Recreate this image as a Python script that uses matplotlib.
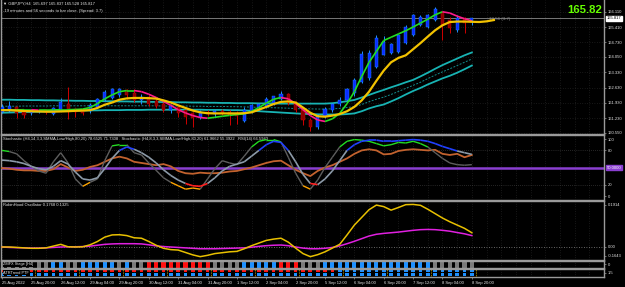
import numpy as np
import matplotlib.pyplot as plt
from matplotlib.collections import LineCollection
from matplotlib.transforms import blended_transform_factory

plt.rcParams['font.family'] = ['Liberation Sans', 'DejaVu Sans']

# GBPJPY H4 candles (25 Aug 2022 - 8 Sep 2022)
opens = [161.52, 161.56, 161.74, 161.56, 161.47, 161.52, 161.61, 161.42, 161.61, 161.88,
         161.65, 161.61, 161.56, 161.74, 162.07, 162.16, 162.30, 162.53, 162.39, 162.07,
         162.20, 162.02, 161.88, 161.61, 161.74, 161.61, 161.47, 161.29, 161.52, 161.42,
         161.56, 161.52, 161.47, 161.10, 161.52, 161.70, 161.79, 161.93, 162.11, 162.34,
         161.93, 161.61, 161.15, 160.83, 161.33, 161.61, 161.88, 162.07, 162.39, 162.89,
         163.08, 163.58, 164.13, 164.23, 164.27, 164.69, 165.05, 165.51, 165.42, 165.74,
         166.11, 165.74, 165.28, 165.83, 165.697]
highs = [161.88, 162.02, 161.79, 161.65, 161.65, 161.61, 161.65, 161.74, 162.16, 162.66,
         161.70, 161.65, 161.93, 162.16, 162.53, 162.62, 162.62, 162.57, 162.57, 162.34,
         162.30, 162.11, 161.97, 161.88, 161.79, 161.65, 161.52, 161.61, 161.61, 161.61,
         161.65, 161.61, 161.56, 161.74, 161.88, 161.93, 162.20, 162.25, 162.48, 162.39,
         162.02, 161.65, 161.24, 161.42, 161.74, 161.93, 162.20, 162.62, 163.08, 164.32,
         164.36, 165.05, 165.01, 164.69, 165.10, 165.51, 166.02, 165.97, 166.02, 166.34,
         166.16, 165.88, 165.97, 165.88, 165.837]
lows = [161.47, 161.52, 161.24, 161.24, 161.38, 161.47, 161.42, 161.38, 161.56, 161.19,
        161.29, 161.38, 161.47, 161.70, 162.02, 162.11, 162.20, 162.11, 161.97, 161.88,
        161.79, 161.70, 161.52, 161.47, 161.29, 160.96, 160.83, 161.19, 161.33, 161.29,
        161.38, 160.92, 160.96, 161.06, 161.47, 161.61, 161.70, 161.84, 162.07, 161.84,
        161.52, 160.92, 160.64, 160.73, 161.24, 161.52, 161.79, 162.02, 162.25, 162.85,
        162.99, 163.54, 164.13, 164.18, 164.23, 164.64, 165.01, 165.47, 165.37, 165.70,
        164.82, 165.15, 165.19, 165.15, 165.528]
closes = [161.74, 161.79, 161.47, 161.38, 161.61, 161.56, 161.52, 161.70, 161.97, 161.61,
          161.52, 161.47, 161.84, 162.11, 162.43, 162.57, 162.57, 162.30, 162.07, 162.20,
          161.88, 161.79, 161.61, 161.79, 161.47, 161.29, 161.24, 161.52, 161.42, 161.56,
          161.47, 161.38, 161.33, 161.61, 161.84, 161.88, 162.11, 162.25, 162.34, 161.93,
          161.61, 161.15, 160.83, 161.33, 161.65, 161.88, 162.07, 162.57, 162.99, 164.18,
          164.23, 164.92, 164.73, 164.64, 165.05, 165.42, 165.97, 165.88, 165.97, 166.25,
          165.51, 165.37, 165.83, 165.62, 165.817]

# moving averages and channel on the price chart
fast_ma = [161.60, 161.60, 161.61, 161.62, 161.62, 161.60, 161.60, 161.61, 161.62, 161.62,
           161.63, 161.65, 161.72, 161.90, 162.12, 162.30, 162.45, 162.50, 162.50, 162.45,
           162.33, 162.18, 162.00, 161.82, 161.62, 161.47, 161.35, 161.26, 161.23, 161.27,
           161.32, 161.36, 161.40, 161.43, 161.55, 161.72, 161.92, 162.10, 162.18, 162.12,
           161.90, 161.62, 161.35, 161.15, 161.08, 161.20, 161.45, 161.90, 162.45, 163.15,
           163.80, 164.30, 164.80, 164.95, 165.10, 165.25, 165.42, 165.60, 165.78, 165.98,
           166.12, 166.06, 165.92, 165.80, 165.70]
slow_ma = [161.60, 161.60, 161.58, 161.56, 161.55, 161.54, 161.53, 161.53, 161.54, 161.55,
           161.57, 161.58, 161.60, 161.70, 161.85, 161.95, 162.08, 162.14, 162.16, 162.16,
           162.15, 162.13, 162.05, 161.95, 161.82, 161.70, 161.58, 161.50, 161.46, 161.45,
           161.45, 161.45, 161.45, 161.46, 161.50, 161.62, 161.75, 161.88, 161.98, 162.00,
           161.95, 161.72, 161.48, 161.32, 161.30, 161.35, 161.42, 161.55, 161.75, 162.05,
           162.45, 162.95, 163.42, 163.80, 164.00, 164.12, 164.40, 164.68, 164.98, 165.27,
           165.50, 165.65, 165.67, 165.67, 165.66, 165.65, 165.68, 165.74]
band_upper = [162.08, 162.08, 162.07, 162.07, 162.06, 162.06, 162.05, 162.05, 162.04, 162.04,
              162.03, 162.03, 162.02, 162.02, 162.01, 162.01, 162.00, 162.00, 161.99, 161.99,
              161.98, 161.98, 161.97, 161.97, 161.96, 161.96, 161.95, 161.95, 161.94, 161.94,
              161.93, 161.93, 161.92, 161.92, 161.92, 161.91, 161.91, 161.91, 161.90, 161.90,
              161.90, 161.90, 161.90, 161.90, 161.90, 161.92, 161.96, 162.01, 162.07, 162.18,
              162.30, 162.42, 162.53, 162.65, 162.76, 162.88, 162.99, 163.15, 163.32, 163.50,
              163.67, 163.82, 163.97, 164.12, 164.25]
band_mid = [161.78, 161.78, 161.78, 161.79, 161.79, 161.79, 161.79, 161.80, 161.80, 161.80,
            161.80, 161.80, 161.80, 161.80, 161.80, 161.80, 161.80, 161.80, 161.80, 161.80,
            161.80, 161.80, 161.79, 161.79, 161.79, 161.79, 161.78, 161.78, 161.77, 161.77,
            161.77, 161.76, 161.76, 161.75, 161.74, 161.73, 161.72, 161.71, 161.70, 161.69,
            161.67, 161.66, 161.66, 161.65, 161.65, 161.66, 161.68, 161.72, 161.76, 161.86,
            161.99, 162.10, 162.20, 162.32, 162.46, 162.60, 162.74, 162.88, 163.05, 163.21,
            163.36, 163.50, 163.65, 163.80, 163.95]
band_lower = [161.48, 161.49, 161.50, 161.51, 161.52, 161.53, 161.54, 161.55, 161.56, 161.57,
              161.58, 161.58, 161.59, 161.59, 161.60, 161.60, 161.60, 161.61, 161.61, 161.61,
              161.62, 161.62, 161.62, 161.62, 161.62, 161.62, 161.62, 161.62, 161.61, 161.61,
              161.61, 161.60, 161.60, 161.59, 161.57, 161.55, 161.53, 161.51, 161.49, 161.47,
              161.45, 161.43, 161.42, 161.41, 161.40, 161.40, 161.40, 161.42, 161.45, 161.55,
              161.68, 161.78, 161.86, 162.00, 162.15, 162.32, 162.48, 162.62, 162.78, 162.92,
              163.06, 163.18, 163.32, 163.48, 163.65]

# stochastics + RSI window
stoch_fast = [80, 78, 74, 62, 52, 44, 40, 60, 76, 58, 30, 17, 24, 30, 62, 88, 90, 90, 76, 72,
              58, 45, 32, 24, 18, 12, 14, 12, 30, 48, 62, 58, 55, 70, 86, 96, 99, 99, 95, 68,
              40, 18, 12, 28, 50, 68, 86, 96, 99, 98, 96, 92, 88, 90, 94, 93, 96, 92, 86, 76,
              66, 58, 55, 54, 55]
stoch_slow = [63, 62, 60, 57, 52, 48, 46, 52, 62, 56, 42, 30, 28, 32, 48, 66, 80, 86, 82, 76,
              68, 58, 46, 36, 28, 22, 18, 17, 22, 32, 44, 52, 56, 60, 70, 80, 90, 96, 94, 80,
              60, 38, 22, 20, 30, 44, 62, 80, 90, 96, 98, 98, 96, 96, 97, 98, 99, 98, 96, 92,
              87, 83, 79, 76, 73]
rsi = [49, 48, 46, 45, 45, 44, 44, 47, 56, 50, 44, 46, 51, 54, 60, 66, 69, 66, 60, 58,
       56, 54, 56, 52, 44, 40, 39, 41, 40, 40, 41, 43, 44, 47, 50, 54, 58, 61, 62, 54,
       46, 40, 35, 44, 50, 54, 60, 66, 74, 80, 82, 80, 73, 74, 79, 81, 82, 81, 80, 81,
       74, 72, 74, 68, 72]

# RobinHood oscillator window
rh_main = [0.000, 0.000, -0.002, -0.004, -0.006, -0.006, -0.004, 0.004, 0.012, 0.001,
           0.000, 0.001, 0.010, 0.025, 0.045, 0.055, 0.056, 0.052, 0.042, 0.040,
           0.025, 0.008, -0.006, -0.012, -0.014, -0.025, -0.036, -0.044, -0.038, -0.030,
           -0.026, -0.022, -0.020, -0.008, 0.006, 0.018, 0.030, 0.036, 0.040, 0.022,
           -0.005, -0.030, -0.044, -0.035, -0.022, -0.005, 0.012, 0.055, 0.100, 0.135,
           0.170, 0.191, 0.184, 0.168, 0.180, 0.193, 0.194, 0.190, 0.172, 0.152,
           0.132, 0.115, 0.100, 0.085, 0.065]
rh_signal = [0.000, -0.002, -0.003, -0.004, -0.005, -0.005, -0.004, -0.002, 0.000, 0.001,
             0.001, 0.002, 0.004, 0.008, 0.012, 0.014, 0.015, 0.015, 0.015, 0.014,
             0.010, 0.005, 0.002, 0.000, -0.002, -0.004, -0.006, -0.008, -0.008, -0.008,
             -0.007, -0.006, -0.005, -0.004, -0.001, 0.003, 0.006, 0.008, 0.009, 0.006,
             0.000, -0.005, -0.008, -0.008, -0.006, -0.002, 0.005, 0.015, 0.026, 0.038,
             0.050, 0.058, 0.062, 0.065, 0.068, 0.072, 0.076, 0.079, 0.080, 0.079,
             0.076, 0.072, 0.066, 0.060, 0.052]

# signal strips, one letter per bar: G grey, B blue, R red
strip_stage = "GGGGGGGBBG" "GBBBBBGBGG" "RRRRRRRRRG" "GGGBBBBBRR" "RGGGBBBBBB" "BBBBBBBBBG" "GGGGG"
strip_trend_top = "RRRRRRRRRR" "RRRRRRRRRR" "RRRRRRRRRR" "RRRRRRRRRR" "RRRRRRBBBB" "BBBBBBBBBB" "BBBBB"
strip_trend_bot = "BBBBBBBBBB" "BBBBBBBBBB" "BBBBBBBBBB" "BBBBBBBBBB" "BBBBBBBBBB" "BBBBBBBBBB" "BBBBB"

time_labels = ["25 Aug 2022", "25 Aug 20:00", "26 Aug 12:00", "29 Aug 04:00", "29 Aug 20:00",
               "30 Aug 12:00", "31 Aug 04:00", "31 Aug 20:00", "1 Sep 12:00", "2 Sep 04:00",
               "2 Sep 20:00", "5 Sep 12:00", "6 Sep 04:00", "6 Sep 20:00", "7 Sep 12:00",
               "8 Sep 04:00", "8 Sep 20:00"]
price_ticks = [166.11, 165.41, 164.73, 164.05, 163.33, 162.63, 161.93, 161.23, 160.55]

# ---------------------------------------------------------------
W, H = 625, 287
fig = plt.figure(figsize=(W / 100, H / 100), dpi=100, facecolor='black')
n = len(closes)
x = np.arange(n)
GRID = '#2e2e2e'
FRAME = '#9a9a9a'
TXT = '#e6e6e6'


def panel(top, bottom):
    ax = fig.add_axes([0.5 / W, 1 - bottom / H, 603.5 / W, (bottom - top) / H])
    ax.set_facecolor('black')
    ax.set_xlim(-0.2, 82.0)
    for s in ax.spines.values():
        s.set_color(FRAME)
        s.set_linewidth(1)
    ax.yaxis.tick_right()
    ax.tick_params(axis='y', labelsize=3, colors=FRAME, labelcolor=TXT, length=1.5, pad=1, width=0.5)
    ax.tick_params(axis='x', bottom=False, labelbottom=False)
    for gx in range(0, 83, 2):
        ax.axvline(gx, color=GRID, lw=0.5, ls=(0, (1, 2.5)), zorder=0)
    return ax


# 1. price chart
ax = panel(0, 133.5)
ax.spines['top'].set_visible(False)
ax.set_ylim(160.527, 166.661)
ax.set_yticks(price_ticks)
ax.set_yticklabels(['%.3f' % p for p in price_ticks])
for p in price_ticks:
    ax.axhline(p, color=GRID, lw=0.5, ls=(0, (1, 2.5)), zorder=0)

ax.plot(x, band_upper, color='#18b4b4', lw=1.3)
ax.plot(x, band_lower, color='#18b4b4', lw=1.3)
ax.plot(x, band_mid, color='#138c8c', lw=0.7, ls=(0, (2, 1.5)))

for i in range(n):
    up = closes[i] >= opens[i]
    wick = '#1e90ff' if up else '#d00000'
    body = '#0a2cff' if up else '#8b0000'
    ax.vlines(i, lows[i], highs[i], color=wick, lw=0.7, zorder=3)
    lo, hi = min(opens[i], closes[i]), max(opens[i], closes[i])
    ax.bar(i, max(hi - lo, 0.01), bottom=lo, width=0.42, color=body, edgecolor=wick, lw=0.3, zorder=4)

segs = [[(i, fast_ma[i]), (i + 1, fast_ma[i + 1])] for i in range(len(fast_ma) - 1)]
cols = ['#22dd22' if fast_ma[i + 1] >= fast_ma[i] else '#ff1a8c' for i in range(len(fast_ma) - 1)]
ax.add_collection(LineCollection(segs, colors=cols, linewidths=1.2, zorder=5))
ax.plot(np.arange(len(slow_ma)), slow_ma, color='#f2c200', lw=1.6, zorder=6)

ax.axhline(closes[-1], color='#8a8a8a', lw=0.6, zorder=2)
ax.text(66.3, 165.79, '19:56 (3.7)', color='#8a8a8a', fontsize=3.2, va='center')
ax.text(0.004, 0.97, '\u25bc GBPJPY,H4  165.697 165.837 165.528 165.817', transform=ax.transAxes,
        color=TXT, fontsize=3, va='center')
ax.text(0.004, 0.915, '-19 minutes and 56 seconds to bar close. (Spread: 3.7)', transform=ax.transAxes,
        color=TXT, fontsize=3, va='center')
ax.text(0.997, 0.925, '165.82', transform=ax.transAxes, color='#66ff00', fontsize=8.2,
        fontweight='bold', ha='right', va='center')
tr = blended_transform_factory(ax.transAxes, ax.transData)
ax.text(1.004, closes[-1], '165.817', transform=tr, fontsize=3, color='black', va='center',
        bbox=dict(facecolor='white', edgecolor='white', pad=0.4), clip_on=False)

# 2. stochastics + RSI
ax2 = panel(134.5, 199.5)
ax2.set_ylim(-6.1, 107.9)
ax2.set_yticks([100, 80, 20, 0])
ax2.set_yticklabels(['100', '80', '20', '0'])
for lv in [80, 20]:
    ax2.axhline(lv, color='#4a4a4a', lw=0.5, ls=(0, (1, 2)), zorder=0)
ax2.axhline(50, color='#8a3fd0', lw=1.8, zorder=1)
tr2 = blended_transform_factory(ax2.transAxes, ax2.transData)
ax2.text(1.004, 50, '50.0000', transform=tr2, fontsize=3, color='white', va='center',
         bbox=dict(facecolor='#8a3fd0', edgecolor='#8a3fd0', pad=0.4), clip_on=False)


def stoch_line(axis, vals, base, top_col, bot_col, lw):
    segs = [[(i, vals[i]), (i + 1, vals[i + 1])] for i in range(len(vals) - 1)]
    cols = []
    for i in range(len(vals) - 1):
        if min(vals[i], vals[i + 1]) >= 78:
            cols.append(top_col)
        elif max(vals[i], vals[i + 1]) <= 24:
            cols.append(bot_col)
        else:
            cols.append(base)
    axis.add_collection(LineCollection(segs, colors=cols, linewidths=lw, zorder=4))


ax2.plot(x, rsi, color='#c2622e', lw=1.3, zorder=3)
stoch_line(ax2, stoch_fast, '#5e5e5e', '#22dd22', '#ffa500', 1.0)
stoch_line(ax2, stoch_slow, '#8c9aa8', '#2040ff', '#ff2020', 1.2)
ax2.text(0.004, 0.93, 'Stochastic (H4,14,3,3,SMMA,Low/High,80,20) 78.6525 71.7308   '
         'Stochastic (H4,8,3,3,SMMA,Low/High,80,20) 61.9662 55.3922   RSI(14) 66.5943',
         transform=ax2.transAxes, color=TXT, fontsize=3, va='center')

# 3. RobinHood oscillator
ax3 = panel(200.5, 259.5)
ax3.set_ylim(-0.057, 0.2119)
ax3.set_yticks([0.1914, 0.0, -0.041])
ax3.set_yticklabels(['0.1914', '0.00', '-0.1643'])
ax3.axhline(0, color='#8a8a8a', lw=0.6, ls=(0, (1, 2)), zorder=1)
ax3.plot(x, rh_signal, color='#e020e0', lw=1.1, zorder=3)
ax3.plot(x, rh_main, color='#e8c000', lw=1.1, zorder=4)
ax3.text(0.004, 0.92, 'RobinHood Oscillator 0.1768 0.1325', transform=ax3.transAxes,
         color=TXT, fontsize=3, va='center')

# 4. signal strips
strip_cols = {'G': '#7a7a7a', 'B': '#1e90ff', 'R': '#ff1010'}
ax4 = panel(260.5, 268.0)
ax4.set_ylim(0, 1)
ax4.set_yticks([0.5])
ax4.set_yticklabels(['0'])
ax4.bar(x, 0.9, bottom=0.05, width=0.55, color=[strip_cols[c] for c in strip_stage], zorder=2)
ax4.text(0.004, 0.5, 'ZMFX Stage [H4]', transform=ax4.transAxes, color=TXT, fontsize=2.8,
         va='center', zorder=5, bbox=dict(facecolor='black', edgecolor='none', pad=0.2))

ax5 = panel(268.5, 277.0)
ax5.set_ylim(0, 1)
ax5.set_yticks([0.5])
ax5.set_yticklabels(['1.5'])
ax5.bar(x, 0.33, bottom=0.6, width=0.5, color=[strip_cols[c] for c in strip_trend_top], zorder=2)
ax5.bar(x, 0.33, bottom=0.12, width=0.5, color=[strip_cols[c] for c in strip_trend_bot], zorder=2)
for k in range(11):
    ax5.axvline(4.5 + 6 * k, ymin=0.05, ymax=0.95, color='#c8a800', lw=0.6, ls=(0, (1, 1)), zorder=3)
ax5.text(0.004, 0.5, 'ATRTrend PTF', transform=ax5.transAxes, color=TXT, fontsize=2.8,
         va='center', zorder=5, bbox=dict(facecolor='black', edgecolor='none', pad=0.2))

ax5.tick_params(axis='x', bottom=True, labelbottom=True, labelsize=3, colors=FRAME,
                labelcolor=TXT, length=1.5, pad=1.5, width=0.5)
ax5.set_xticks(range(0, 4 * len(time_labels), 4))
ax5.set_xticklabels(time_labels, ha='left')

plt.savefig('out.png', dpi=100, facecolor='black')
